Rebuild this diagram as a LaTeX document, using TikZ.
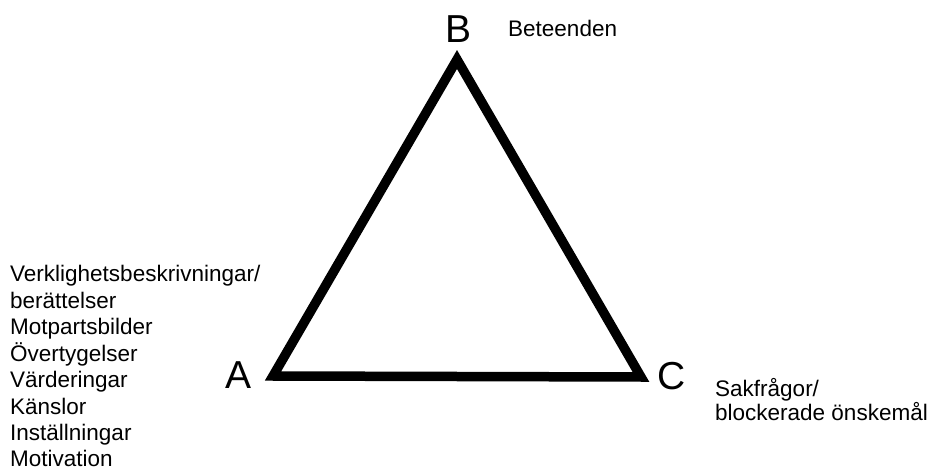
\documentclass[tikz,border=0pt]{standalone}
\usepackage{fontspec}
\setmainfont{Liberation Sans}
\begin{document}
\begin{tikzpicture}[x=1pt,y=-1pt,
  vlabel/.style={inner sep=0pt,font=\fontsize{39}{39}\selectfont},
  txt/.style={inner sep=0pt,anchor=base west,font=\fontsize{22.5}{22.5}\selectfont,align=left},
  edge/.style={line width=9.5pt,line join=miter}]
\useasboundingbox (0,0) rectangle (929,470);
\coordinate (pA) at (273,376);
\coordinate (pB) at (457,59.5);
\coordinate (pC) at (641,377);
\draw[edge] (pA) -- (pB) -- (pC) -- cycle;
\node[vlabel] (B) at (459,29) {B};
\node[vlabel] (A) at (239,375) {A};
\node[vlabel] (C) at (672,376) {C};
\node[txt] (beh) at (508,37) {Beteenden};
\node[txt] (sak) at (715,396) {Sakfrågor/};
\node[txt] (blk) at (715,420) {blockerade önskemål};
\node[txt] (l1) at (10,282) {Verklighetsbeskrivningar/};
\node[txt] (l2) at (10,308.4) {berättelser};
\node[txt] (l3) at (10,334.8) {Motpartsbilder};
\node[txt] (l4) at (10,361.2) {Övertygelser};
\node[txt] (l5) at (10,387.6) {Värderingar};
\node[txt] (l6) at (10,414) {Känslor};
\node[txt] (l7) at (10,440.4) {Inställningar};
\node[txt] (l8) at (10,466.8) {Motivation};
\end{tikzpicture}
\end{document}
